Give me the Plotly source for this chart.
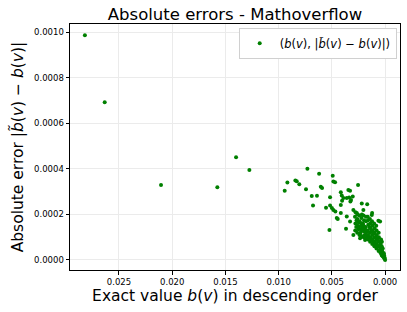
import plotly.graph_objects as go

# Exact value b(v) for each vertex (x) and absolute error |b~(v) - b(v)| (y)
outlier_x = [0.0282, 0.02634, 0.02105, 0.01576, 0.0140, 0.01275,
             0.0073, 0.0062, 0.00918, 0.00943, 0.00843, 0.0083, 0.00806, 0.00743,
             0.00689, 0.0064, 0.00677, 0.00604, 0.00592, 0.00492, 0.00486, 0.0047,
             0.00517, 0.00555, 0.00517, 0.0050, 0.00486, 0.00467, 0.00416, 0.00407,
             0.00404, 0.00416, 0.00454, 0.00445, 0.00523, 0.00254, 0.00329, 0.00345,
             0.00338, 0.0036, 0.00326, 0.0032, 0.00304, 0.00219, 0.00168, 0.00367,
             0.00392, 0.00416, 0.0036, 0.00298, 0.00266, 0.00204, 0.00125, 0.00122,
             0.00063, 0.00047, 0.00298, 0.00235, 0.00188, 0.00251, 0.00329]
outlier_y = [0.000988, 0.000693, 0.000329, 0.000320, 0.000451, 0.000395,
             0.000401, 0.000379, 0.000340, 0.000304, 0.000349, 0.000346, 0.000333, 0.000311,
             0.000281, 0.000282, 0.000239, 0.000322, 0.000316, 0.000370, 0.000345, 0.000342,
             0.000276, 0.000230, 0.000239, 0.000228, 0.000220, 0.000213, 0.000298, 0.000283,
             0.000260, 0.000242, 0.000184, 0.000180, 0.000132, 0.000330, 0.000304, 0.000308,
             0.000275, 0.000272, 0.000257, 0.000264, 0.000279, 0.000248, 0.000245, 0.000137,
             0.000272, 0.000206, 0.000191, 0.000220, 0.000206, 0.000220, 0.000198, 0.000207,
             0.000172, 0.000169, 0.000110, 0.000096, 0.000088, 0.000147, 0.000169]

dense_x = [0.00281, 0.00279, 0.00283, 0.00278,
           0.00262, 0.00259, 0.00261, 0.00258,
           0.00241, 0.00243, 0.00239, 0.00242,
           0.00221, 0.00222, 0.00219, 0.00223, 0.00218,
           0.00201, 0.00199, 0.00202, 0.00198, 0.00203,
           0.00181, 0.00179, 0.00182, 0.00178, 0.00180,
           0.00161, 0.00159, 0.00162, 0.00158, 0.00160, 0.00163,
           0.00141, 0.00139, 0.00142, 0.00138, 0.00140, 0.00143,
           0.00121, 0.00119, 0.00122, 0.00118, 0.00120, 0.00123,
           0.00101, 0.00099, 0.00102, 0.00098, 0.00100, 0.00103,
           0.00081, 0.00079, 0.00082, 0.00078, 0.00080, 0.00083,
           0.00061, 0.00059, 0.00062, 0.00058, 0.00060,
           0.00041, 0.00039, 0.00042, 0.00038,
           0.00031, 0.00029, 0.00032, 0.00030,
           0.00021, 0.00019, 0.00022,
           0.00011, 0.00009, 0.00012,
           0.00005, 0.00004, 0.0,
           0.00271, 0.00251, 0.00231, 0.00211, 0.00191, 0.00171, 0.00151,
           0.00131, 0.00111, 0.00091, 0.00071, 0.00051, 0.00035, 0.00025,
           0.00015, 0.00268, 0.00248, 0.00228, 0.00208, 0.00188, 0.00168,
           0.00148, 0.00128, 0.00108, 0.00088, 0.00068, 0.00048]
dense_y = [0.000130, 0.000160, 0.000190, 0.000210,
           0.000120, 0.000150, 0.000180, 0.000200,
           0.000110, 0.000140, 0.000170, 0.000195,
           0.000105, 0.000130, 0.000160, 0.000185, 0.000200,
           0.000100, 0.000125, 0.000150, 0.000175, 0.000195,
           0.000095, 0.000120, 0.000145, 0.000170, 0.000190,
           0.000090, 0.000110, 0.000130, 0.000155, 0.000175, 0.000190,
           0.000080, 0.000100, 0.000120, 0.000140, 0.000160, 0.000180,
           0.000070, 0.000090, 0.000110, 0.000130, 0.000150, 0.000170,
           0.000060, 0.000080, 0.000100, 0.000120, 0.000140, 0.000160,
           0.000050, 0.000070, 0.000090, 0.000110, 0.000130, 0.000150,
           0.000040, 0.000060, 0.000080, 0.000100, 0.000120,
           0.000030, 0.000050, 0.000070, 0.000090,
           0.000020, 0.000040, 0.000060, 0.000080,
           0.000015, 0.000030, 0.000050,
           0.000010, 0.000020, 0.000030,
           0.000005, 0.000010, 0.0,
           0.000145, 0.000135, 0.000120, 0.000140, 0.000110, 0.000105, 0.000100,
           0.000090, 0.000080, 0.000070, 0.000060, 0.000045, 0.000055, 0.000035,
           0.000022, 0.000175, 0.000165, 0.000150, 0.000160, 0.000135, 0.000125,
           0.000145, 0.000125, 0.000115, 0.000100, 0.000085, 0.000065]

exact_values = outlier_x + dense_x
abs_errors = outlier_y + dense_y

x_ticks = [0.025, 0.020, 0.015, 0.010, 0.005, 0.000]
x_tick_labels = ["0.025", "0.020", "0.015", "0.010", "0.005", "0.000"]
y_ticks = [0.0, 0.0002, 0.0004, 0.0006, 0.0008, 0.0010]
y_tick_labels = ["0.0000", "0.0002", "0.0004", "0.0006", "0.0008", "0.0010"]

FONT = "DejaVu Sans"
GREEN = "#008000"

fig = go.Figure()
fig.add_trace(go.Scatter(
    x=exact_values, y=abs_errors, mode="markers",
    marker=dict(color=GREEN, size=4, line=dict(width=0)),
    name="(<i>b</i>(<i>v</i>), |<i>b̃</i>(<i>v</i>) − <i>b</i>(<i>v</i>)|)",
    showlegend=True,
))

axis_common = dict(
    showline=True, mirror=True, linecolor="black", linewidth=1,
    ticks="outside", ticklen=3.5, tickcolor="black", tickwidth=1,
    showgrid=True, gridcolor="#ebebeb", gridwidth=1, zeroline=False,
    tickfont=dict(family=FONT, size=8.5, color="black"),
    automargin=False,
)

fig.update_layout(
    width=407, height=312,
    margin=dict(l=70, r=7, t=24, b=42, autoexpand=False),
    paper_bgcolor="white", plot_bgcolor="white",
    font=dict(family=FONT, color="black"),
    title=dict(text="Absolute errors - Mathoverflow", x=0.5, xref="paper",
               xanchor="center", y=0.955, yref="container", yanchor="middle",
               font=dict(family=FONT, size=16.5, color="black")),
    xaxis=dict(range=[0.0296, -0.0014], tickvals=x_ticks, ticktext=x_tick_labels,
               title=dict(text="Exact value <i>b</i>(<i>v</i>) in descending order",
                          font=dict(family=FONT, size=15.5), standoff=4),
               **axis_common),
    yaxis=dict(range=[-0.000044, 0.001037], tickvals=y_ticks, ticktext=y_tick_labels,
               title=dict(text="Absolute error |<i>b̃</i>(<i>v</i>) − <i>b</i>(<i>v</i>)|",
                          font=dict(family=FONT, size=15.5), standoff=6),
               **axis_common),
    legend=dict(x=0.99, y=0.985, xanchor="right", yanchor="top",
                bgcolor="white", bordercolor="#d0d0d0", borderwidth=1,
                font=dict(family=FONT, size=11.5, color="black")),
)

fig.write_html("out.html",
               config={"displayModeBar": False},
               post_script="document.body.style.margin='0';document.body.style.overflow='hidden';")
